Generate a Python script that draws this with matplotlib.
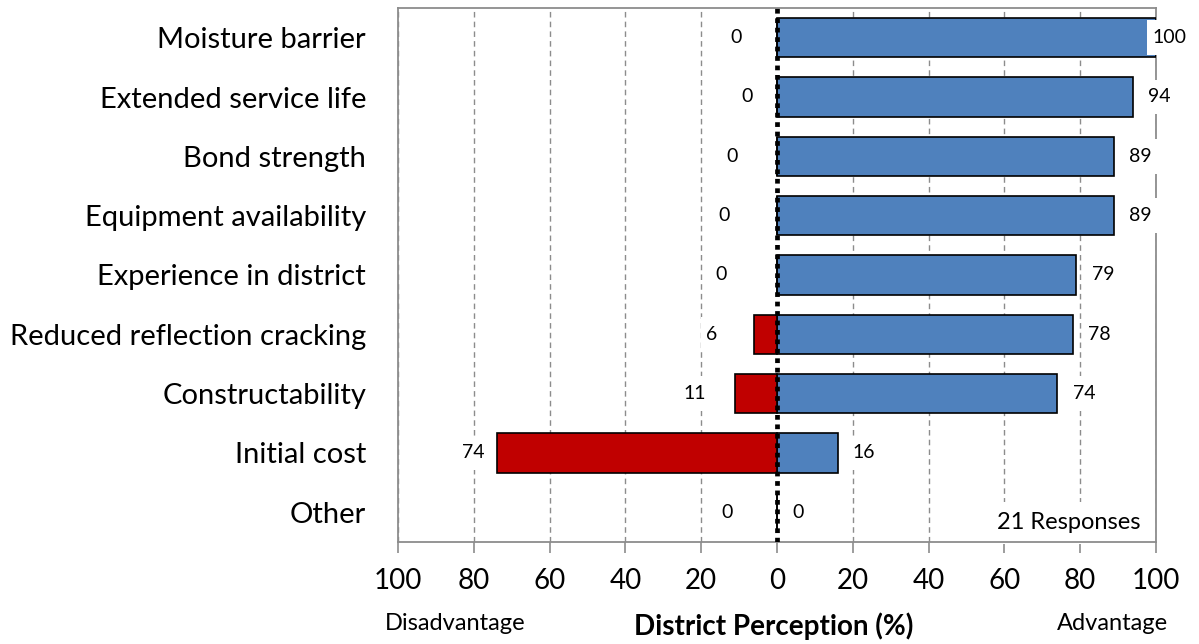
import matplotlib
matplotlib.use("Agg")
import matplotlib.pyplot as plt
from matplotlib.path import Path
from matplotlib.ticker import FuncFormatter
import numpy as np

plt.rcParams['font.family'] = ['Lato', 'DejaVu Sans']

# --- Data ---
categories = ["Moisture barrier", "Extended service life", "Bond strength",
              "Equipment availability", "Experience in district",
              "Reduced reflection cracking", "Constructability",
              "Initial cost", "Other"]
advantage = [100, 94, 89, 89, 79, 78, 74, 16, 0]
disadvantage = [0, 0, 0, 0, 0, 6, 11, 74, 0]
responses = 21

# label nudges (data units) for the disadvantage side, as placed in the original
neg_gap = [9.2, 6.3, 10.3, 12.4, 13.2, 9.8, 7.7, 3.3, 11.6]

BLUE = '#4F81BD'
RED = '#C00000'
GRID = '#8C8C8C'


def tall_box(x0, y0, width, height, mutation_size):
    # white label box, taller than wide like the spreadsheet labels
    px = 0.25 * mutation_size
    py = 0.45 * mutation_size
    verts = [(x0 - px, y0 - py), (x0 + width + px, y0 - py),
             (x0 + width + px, y0 + height + py), (x0 - px, y0 + height + py),
             (x0 - px, y0 - py)]
    return Path(verts, closed=True)


fig = plt.figure(figsize=(11.99, 6.44), dpi=100)
ax = fig.add_axes([398 / 1199, 1 - 542 / 644, (1156 - 398) / 1199, (542 - 8) / 644])

y = np.arange(len(categories))
ax.barh(y, advantage, height=0.66, color=BLUE, edgecolor='black', linewidth=1.2, zorder=3)
ax.barh(y, [-d for d in disadvantage], height=0.66, color=RED, edgecolor='black',
        linewidth=1.2, zorder=3)
ax.axvline(0, color='black', linewidth=3.4, linestyle=(0, (1, 1)), zorder=4)

ax.set_xlim(-100, 100)
ax.set_ylim(len(categories) - 0.5, -0.5)
ax.set_xticks(range(-100, 101, 20))
ax.xaxis.set_major_formatter(FuncFormatter(lambda v, p: f"{abs(int(v))}"))
ax.set_yticks(y)
ax.set_yticklabels(categories)

ax.set_axisbelow(True)
ax.grid(axis='x', color=GRID, linestyle=(0, (4, 3)), linewidth=1.0)
ax.xaxis.get_gridlines()[5].set_visible(False)

ax.tick_params(axis='x', direction='out', length=8, width=1.2, color=GRID,
               labelsize=20, pad=11)
ax.tick_params(axis='y', length=0, labelsize=21, pad=23)
for s in ax.spines.values():
    s.set_color(GRID)
    s.set_linewidth(1.3)

box = dict(boxstyle=tall_box, facecolor='white', edgecolor='none')
for i in range(len(categories)):
    ax.text(min(advantage[i] + 4, 99), y[i], f"{advantage[i]}", ha='left', va='center',
            fontsize=14, bbox=box, zorder=6)
    ax.text(-disadvantage[i] - neg_gap[i], y[i], f"{disadvantage[i]}", ha='right',
            va='center', fontsize=14, bbox=box, zorder=6)

# sits under the frame so the bottom edge stays unbroken
ax.text(0.979, 0.036, f"{responses} Responses", transform=ax.transAxes, ha='right',
        va='center', fontsize=17, bbox=box, zorder=2)

fig.text(455 / 1199, 1 - 623 / 644, "Disadvantage", ha='center', va='center', fontsize=17)
fig.text(1112 / 1199, 1 - 623 / 644, "Advantage", ha='center', va='center', fontsize=17)
fig.text(774 / 1199, 1 - 626 / 644, "District Perception (%)", ha='center', va='center',
         fontsize=20, fontweight='bold')

fig.savefig("out.png", dpi=100)
